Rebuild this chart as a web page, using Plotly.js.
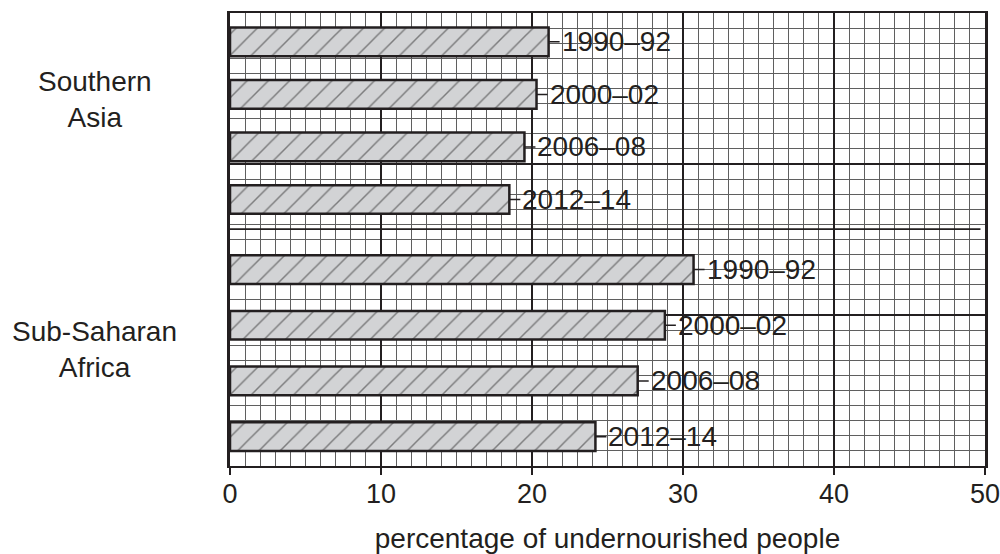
<!DOCTYPE html>
<html>
<head>
<meta charset="utf-8">
<script src="https://cdn.plot.ly/plotly-3.0.1.min.js"></script>
<style>html,body{margin:0;padding:0;background:#fff;}#chart{width:1000px;height:554px;}</style>
</head>
<body>
<div id="chart"></div>
<script>
// ---- data ----
const periods = ["1990–92", "2000–02", "2006–08", "2012–14"];
const southernAsia = [21.1, 20.3, 19.5, 18.5];
const subSaharanAfrica = [30.7, 28.8, 27.0, 24.2];
const regions = ["Southern<br>Asia", "Sub-Saharan<br>Africa"];
const xTickVals = [0, 10, 20, 30, 40, 50];
const xTickText = ["0", "10", "20", "30", "40", "50"];
const xTitle = "percentage of undernourished people";

// ---- styles ----
const ink = "#231f20";
const minorGrid = "#5f5f5f";
const font = "Liberation Sans, Arial, Helvetica, sans-serif";
const barStyle = {
  color: "#d2d3d5",
  line: {color: ink, width: 2.5},
  pattern: {shape: "/", fillmode: "overlay", fgcolor: "#262626", size: 15, solidity: 0.1}
};

function barTrace(values, yaxis, width) {
  return {
    type: "bar", orientation: "h",
    x: values, y: periods,
    xaxis: "x", yaxis: yaxis,
    width: width,
    marker: barStyle,
    hoverinfo: "skip", showlegend: false
  };
}

// empty trace so the main (grid) subplot x/y exists
const gridHolder = {type: "scatter", x: [], y: [], xaxis: "x", yaxis: "y", hoverinfo: "skip", showlegend: false};

const traces = [
  gridHolder,
  barTrace(southernAsia, "y2", 0.545),
  barTrace(subSaharanAfrica, "y3", 0.515)
];

function labelAnns(values, yref) {
  return values.map((v, i) => ({
    x: v, y: periods[i], xref: "x", yref: yref,
    text: periods[i], showarrow: true, arrowhead: 0, arrowwidth: 1.5,
    arrowcolor: ink, ax: 11, ay: 0, xanchor: "left", standoff: 0,
    font: {family: font, size: 28, color: ink}
  }));
}

const regionY = [0.81, 0.258];
const annotations = [
  ...labelAnns(southernAsia, "y2"),
  ...labelAnns(subSaharanAfrica, "y3"),
  ...regions.map((r, i) => ({
    text: r, xref: "paper", yref: "paper", x: -0.179, y: regionY[i],
    xanchor: "center", yanchor: "middle", showarrow: false, align: "center",
    font: {family: font, size: 28, color: ink}
  }))
];

const layout = {
  width: 1000, height: 554,
  margin: {l: 230, r: 15, t: 13, b: 88},
  paper_bgcolor: "#fff", plot_bgcolor: "#fff",
  font: {family: font, color: ink},
  showlegend: false,
  xaxis: {
    range: [0, 50], tickvals: xTickVals, ticktext: xTickText,
    ticks: "outside", ticklen: 7, tickwidth: 2, tickcolor: ink,
    ticklabelstandoff: -5, ticklabeloverflow: "allow",
    tickfont: {family: font, size: 27, color: ink},
    showgrid: true, gridcolor: ink, gridwidth: 1.8,
    minor: {dtick: 1, tick0: 0, showgrid: true, gridcolor: minorGrid, gridwidth: 1.1, ticks: ""},
    showline: true, linecolor: ink, linewidth: 2.2, mirror: true,
    zeroline: false,
    title: {text: xTitle, font: {family: font, size: 28, color: ink}, standoff: 30},
    fixedrange: true
  },
  yaxis: {
    type: "linear",
    range: [0, 30], tickvals: [0, 10, 20, 30], showticklabels: false, ticks: "",
    showgrid: true, gridcolor: ink, gridwidth: 1.8,
    minor: {dtick: 1, tick0: 0, showgrid: true, gridcolor: minorGrid, gridwidth: 1.1, ticks: ""},
    showline: true, linecolor: ink, linewidth: 2.8, mirror: true,
    zeroline: false, fixedrange: true
  },
  yaxis2: {type: "category", overlaying: "y", range: [8.074, -0.549], visible: false, fixedrange: true},
  yaxis3: {type: "category", overlaying: "y", range: [3.527, -4.607], visible: false, fixedrange: true},
  shapes: [
    {type: "line", xref: "x", yref: "paper", x0: 0, x1: 49.7, y0: 0.523, y1: 0.523,
     line: {color: ink, width: 1.8}}
  ],
  annotations: annotations
};

Plotly.newPlot("chart", traces, layout, {staticPlot: true, displayModeBar: false});
</script>
</body>
</html>
